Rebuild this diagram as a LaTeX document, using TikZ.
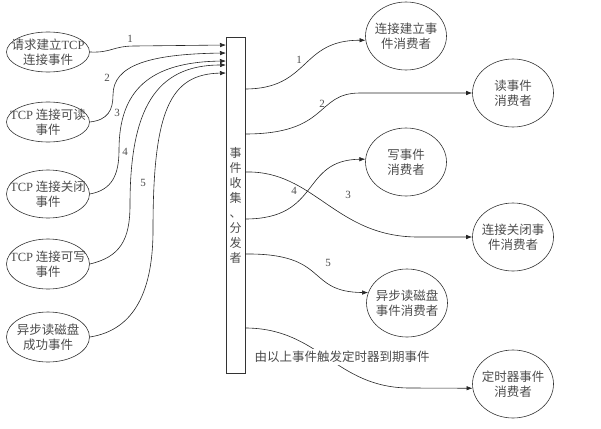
\documentclass[tikz,border=0pt]{standalone}
\usepackage{fontspec}
\setmainfont{Liberation Serif}
\newfontfamily\cjk{Noto Sans CJK SC}
\usetikzlibrary{shapes.geometric,arrows.meta}
\newcommand{\tcp}{{\rmfamily TCP}}

\begin{document}
\begin{tikzpicture}[x=1pt, y=-1pt, line width=0.6pt,
        every node/.style={inner sep=0pt, align=center, text=black!70, font=\cjk\fontsize{12.5}{15}\selectfont},
        src/.style={draw=black!80, ellipse, minimum width=83pt},
        dst/.style={draw=black!80, ellipse, minimum width=81pt, minimum height=68pt},
        num/.style={font=\rmfamily\fontsize{11}{11}\selectfont},
        flow/.style={draw=black!85, -{Latex[length=6pt,width=4.5pt]}}]
        \useasboundingbox (0,0) rectangle (601,428);
        % event sources
        \foreach \n/\y/\h/\t in {1/52/40/{请求建立\tcp\\连接事件}, 2/122/40/{\tcp\ 连接可读\\事件},
                3/194/48/{\tcp\ 连接关闭\\事件}, 4/264/50/{\tcp\ 连接可写\\事件}, 5/337/50/{异步读磁盘\\成功事件}}
        {
            \node[src, minimum height=\h pt] (e\n) at (48,\y) {};
            \node (et\n) at (e\n) {\t};
        }
        % collector / dispatcher
        \node[draw=black!80, minimum width=19pt, minimum height=336pt] (bar) at (235.5,205) {};
        \node[font=\cjk\fontsize{12}{15}\selectfont] (bartxt) at (235.5,205) {事\\件\\收\\集\\、\\分\\发\\者};
        \foreach \y [count=\i] in {45,53,61,65,73}
            \coordinate (in\i) at (226,\y);
        \foreach \y [count=\i] in {89,134,172,219,254,328}
            \coordinate (out\i) at (245,\y);
        % consumers
        \foreach \n/\x/\y/\t in {1/406/36/{连接建立事\\件消费者}, 2/513/93/{读事件\\消费者}, 3/406/162/{写事件\\消费者},
                4/513/237/{连接关闭事\\件消费者}, 5/407/303/{异步读磁盘\\事件消费者}, 6/513/384/{定时器事件\\消费者}}
        {
            \node[dst] (r\n) at (\x,\y) {};
            \node (rt\n) at (r\n) {\t};
        }
        % incoming events
        \draw[flow] (e1.east) .. controls (112,53) and (112,46) .. (135,46) -- (in1);
        \draw[flow] (e2.east) .. controls (108,120) and (113,110) .. (113,95) .. controls (113,65) and (150,54) .. (in2);
        \draw[flow] (e3.east) .. controls (112,190) and (119,175) .. (119,150) .. controls (119,90) and (150,62) .. (in3);
        \draw[flow] (e4.east) .. controls (120,257) and (130,240) .. (130,205) .. controls (130,110) and (155,65) .. (in4);
        \draw[flow] (e5.east) .. controls (135,330) and (153,290) .. (153,230) .. controls (153,110) and (170,74) .. (in5);
        % dispatched events
        \draw[flow] (out1) .. controls (310,89) and (300,40) .. (r1.186);
        \draw[flow] (out2) .. controls (330,134) and (315,93) .. (360,93) -- (r2.west);
        \draw[flow] (out3) .. controls (315,170) and (335,238) .. (420,237) -- (r4.west);
        \draw[flow] (out4) .. controls (322,219) and (300,160) .. (r3.176);
        \draw[flow] (out5) .. controls (330,253) and (305,292) .. (r5.165);
        \draw[flow] (out6) .. controls (320,328) and (335,388) .. (410,388) -- (r6.186);
        \node[fill=white, inner sep=2pt] (timer) at (342,357) {由以上事件触发定时器到期事件};
        % edge numbers
        \foreach \x/\y/\k [count=\i] in {130/39/1, 107/78/2, 117/113/3, 125/152/4, 143/183/5,
                299/60/1, 322/104/2, 348/195/3, 294/191/4, 328/263/5}
            \node[num] (k\i) at (\x,\y) {\k};
    \end{tikzpicture}
\end{document}
